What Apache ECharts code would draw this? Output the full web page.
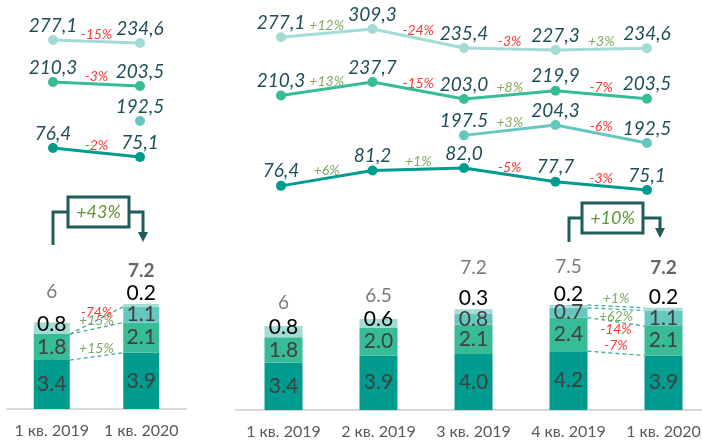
<!DOCTYPE html>
<html>
<head>
<meta charset="utf-8">
<script src="https://cdn.jsdelivr.net/npm/echarts@6/dist/echarts.min.js"></script>
<style>
  html, body { margin: 0; background: #fff; }
  #chart { width: 702px; height: 441px; }
</style>
</head>
<body>
<div id="chart"></div>
<script>
// ── Data ────────────────────────────────────────────────────────────────
const leftCats  = ['1 кв. 2019', '1 кв. 2020']
const rightCats = ['1 кв. 2019', '2 кв. 2019', '3 кв. 2019', '4 кв. 2019', '1 кв. 2020']

// stacked bar segments, bottom → top
const leftSeg1 = [3.4, 3.9]
const leftSeg2 = [1.8, 2.1]
const leftSeg3 = [null, 1.1]
const leftSeg4 = [0.8, 0.2]
const leftTotals = ['6', '7.2']

const rightSeg1 = [3.4, 3.9, 4.0, 4.2, 3.9]
const rightSeg2 = [1.8, 2.0, 2.1, 2.4, 2.1]
const rightSeg3 = [null, null, 0.8, 0.7, 1.1]
const rightSeg4 = [0.8, 0.6, 0.3, 0.2, 0.2]
const rightTotals = ['6', '6.5', '7.2', '7.5', '7.2']

// change labels on the dashed bridges (per segment, bottom → top)
const leftBridgePct  = ['+15%', '+15%', '-74%']
const rightBridgePct = ['-7%', '-14%', '+62%', '+1%']
const leftGrowth  = '+43%'
const rightGrowth = '+10%'

// lines above the bars
const leftLine1 = [277.1, 234.6]
const leftLine1Pct = ['-15%']
const leftLine2 = [210.3, 203.5]
const leftLine2Pct = ['-3%']
const leftLine3 = [null, 192.5]
const leftLine3Pct = [null]
const leftLine4 = [76.4, 75.1]
const leftLine4Pct = ['-2%']

const rightLine1 = [277.1, 309.3, 235.4, 227.3, 234.6]
const rightLine1Pct = ['+12%', '-24%', '-3%', '+3%']
const rightLine2 = [210.3, 237.7, 203.0, 219.9, 203.5]
const rightLine2Pct = ['+13%', '-15%', '+8%', '-7%']
const rightLine3 = [null, null, 197.5, 204.3, 192.5]
const rightLine3Pct = [null, null, '+3%', '-6%']
const rightLine3Labels = ['', '', '197.5', '204,3', '192,5']
const rightLine4 = [76.4, 81.2, 82.0, 77.7, 75.1]
const rightLine4Pct = ['+6%', '+1%', '-5%', '-3%']

// ── Style ───────────────────────────────────────────────────────────────
const FONT = 'Lato, "Open Sans", sans-serif'
const C1 = '#009b8f', C2 = '#38bc98', C3 = '#66c7bf', C4 = '#a3dcd5'
const VAL = '#1e4f57', UP = '#5f9435', DOWN = '#ff0000', BRACKET = '#1f5c5b'
const H = 441

const fmt = v => v.toFixed(1).replace('.', ',')
const pctColor = s => (s[0] === '-' ? DOWN : UP)

// axis range so that value vA lands on pixel pA and vB on pB (grid from 0 to H)
function fitRange(vA, pA, vB, pB) {
  const s = (pB - pA) / (vA - vB)
  const max = vA + pA / s
  return { min: max - H / s, max }
}

function cumulate(segs) {
  return segs.map((_, k) => segs[0].map((__, i) =>
    segs.slice(0, k + 1).reduce((a, s) => a + (s[i] || 0), 0)))
}

function barSeries(segs, xi, yi, stack, barW, topLabel) {
  const colors = [C1, C2, C3, C4]
  return segs.map((seg, k) => ({
    type: 'bar', stack, xAxisIndex: xi, yAxisIndex: yi, barWidth: barW,
    itemStyle: { color: colors[k] },
    data: seg.map((v, i) => k < 3 ? v : { value: v, label: topLabel[i] }),
    label: {
      show: true, position: 'inside', fontFamily: FONT, fontSize: 21,
      color: k === 3 ? '#000' : '#404040',
      formatter: p => (p.value == null ? '' : p.value.toFixed(1)),
    },
  }))
}

function totalSeries(segs, labels, xi, yi, dist) {
  const sums = segs[0].map((_, i) => segs.reduce((a, s) => a + (s[i] || 0), 0))
  const last = sums.length - 1
  return {
    type: 'scatter', xAxisIndex: xi, yAxisIndex: yi, symbolSize: 1, silent: true,
    itemStyle: { color: 'transparent' },
    data: sums.map((v, i) => ({
      value: v,
      label: {
        distance: dist[i],
        fontWeight: i === last ? 'bold' : 'normal',
        color: i === last ? '#404040' : '#595959',
      },
    })),
    label: { show: true, position: 'top', fontFamily: FONT, fontSize: 19, formatter: p => labels[p.dataIndex] },
  }
}

function bridgeSeries(segs, from, to, pcts, xi, yi, off, labelPos) {
  const cum = cumulate(segs)
  const out = pcts.map((_, k) => ({
    type: 'line', xAxisIndex: xi, yAxisIndex: yi, symbol: 'none', silent: true, z: 3,
    lineStyle: { color: '#3fae9f', width: 1.3, type: [4, 3] },
    data: [[from + off, cum[k][from]], [to - off, cum[k][to]]],
  }))
  out.push({
    type: 'scatter', xAxisIndex: xi, yAxisIndex: yi, symbolSize: 1, silent: true, z: 4,
    itemStyle: { color: 'transparent' },
    data: pcts.map((t, k) => ({
      value: [(from + to) / 2, (cum[k][from] + cum[k][to]) / 2],
      label: { position: labelPos[k], color: pctColor(t) },
    })),
    label: {
      show: true, distance: 0, fontFamily: FONT, fontSize: 14, fontStyle: 'italic',
      formatter: p => pcts[p.dataIndex],
    },
  })
  return out
}

function lineSeries(vals, pcts, color, xi, yi, texts) {
  const pts = vals.map((v, i) => (v == null ? null : [i, v])).filter(Boolean)
  const mids = []
  pcts.forEach((t, i) => {
    if (t) mids.push({ value: [i + 0.5, (vals[i] + vals[i + 1]) / 2], label: { color: pctColor(t) }, t })
  })
  return [
    {
      type: 'line', xAxisIndex: xi, yAxisIndex: yi, data: pts,
      symbol: 'circle', symbolSize: 10, silent: true,
      lineStyle: { color, width: 3 }, itemStyle: { color },
      label: {
        show: true, position: 'top', distance: 0,
        fontFamily: FONT, fontSize: 19, fontStyle: 'italic', color: VAL,
        formatter: p => (texts ? texts[p.value[0]] : fmt(p.value[1])),
      },
    },
    {
      type: 'scatter', xAxisIndex: xi, yAxisIndex: yi, symbolSize: 1, silent: true,
      itemStyle: { color: 'transparent' },
      data: mids.map(m => ({ value: m.value, label: m.label })),
      label: {
        show: true, position: 'top', distance: 0,
        fontFamily: FONT, fontSize: 14, fontStyle: 'italic',
        formatter: p => mids[p.dataIndex].t,
      },
    },
  ]
}

// ── Layout ──────────────────────────────────────────────────────────────
const leftSegs  = [leftSeg1, leftSeg2, leftSeg3, leftSeg4]
const rightSegs = [rightSeg1, rightSeg2, rightSeg3, rightSeg4]

const grids = [
  { left: 7,   top: 265, width: 179, height: 144 },   // left bars
  { left: 236, top: 270, width: 475, height: 140 },   // right bars
  { left: 53,  top: 0,   width: 87,  height: H },     // left lines
  { left: 281, top: 0,   width: 366, height: H },     // right lines
].map(g => ({ ...g, containLabel: false, outerBoundsMode: 'none' }))

const catAxis = (data, gridIndex) => ({
  type: 'category', gridIndex, data,
  axisLine: { lineStyle: { color: '#d9d9d9', width: 2 } },
  axisTick: { show: false },
  axisLabel: { interval: 0, hideOverlap: false, fontFamily: FONT, fontSize: 16, color: '#595959', margin: 14 },
})
const hiddenVal = (gridIndex, min, max) => ({ type: 'value', gridIndex, min, max, show: false })

const xAxis = [
  catAxis(leftCats, 0),
  hiddenVal(0, -0.5, 1.5),
  catAxis(rightCats, 1),
  hiddenVal(1, -0.5, 4.5),
  hiddenVal(2, 0, 1),
  hiddenVal(3, 0, 4),
]

const leftFits  = [[277.1, 40, 234.6, 43], [210.3, 82, 203.5, 86], [192.5, 121, 182.5, 136], [76.4, 148, 75.1, 157]]
const rightFits = [[309.3, 29, 227.3, 50], [237.7, 82, 203.0, 99], [204.3, 125, 192.5, 143], [82.0, 168, 75.1, 190]]

const yAxis = [
  hiddenVal(0, 0, 10),
  hiddenVal(1, 0, 10),
  ...leftFits.map(f => ({ type: 'value', gridIndex: 2, show: false, ...fitRange(...f) })),
  ...rightFits.map(f => ({ type: 'value', gridIndex: 3, show: false, ...fitRange(...f) })),
]

const inside = { position: 'inside', offset: [0, -4] }
const above  = { position: 'top', distance: 0 }

const series = [
  ...barSeries(leftSegs, 0, 0, 'L', 36, [inside, above]),
  ...barSeries(rightSegs, 2, 1, 'R', 38, [inside, inside, above, above, above]),
  totalSeries(leftSegs, leftTotals, 0, 0, [21, 23]),
  totalSeries(rightSegs, rightTotals, 2, 1, [13, 13, 31, 28, 30]),
  ...bridgeSeries(leftSegs, 0, 1, leftBridgePct, 1, 0, 18 / 89.5, ['top', 'top', 'top']),
  ...bridgeSeries(rightSegs, 3, 4, rightBridgePct, 3, 1, 19 / 95, ['top', 'bottom', 'bottom', 'top']),
  ...lineSeries(leftLine1, leftLine1Pct, C4, 4, 2),
  ...lineSeries(leftLine2, leftLine2Pct, C2, 4, 3),
  ...lineSeries(leftLine3, leftLine3Pct, C3, 4, 4),
  ...lineSeries(leftLine4, leftLine4Pct, C1, 4, 5),
  ...lineSeries(rightLine1, rightLine1Pct, C4, 5, 6),
  ...lineSeries(rightLine2, rightLine2Pct, C2, 5, 7),
  ...lineSeries(rightLine3, rightLine3Pct, C3, 5, 8, rightLine3Labels),
  ...lineSeries(rightLine4, rightLine4Pct, C1, 5, 9),
]

// growth brackets
const stroke = { stroke: BRACKET, lineWidth: 3, fill: null }
function bracket(x0, y0, box, x1, yTip, text) {
  const yMid = box.y + box.h / 2
  return [
    { type: 'polyline', shape: { points: [[x0, y0], [x0, yMid], [box.x, yMid]] }, style: stroke },
    { type: 'rect', shape: { x: box.x, y: box.y, width: box.w, height: box.h }, style: { ...stroke, fill: '#fff' } },
    { type: 'polyline', shape: { points: [[box.x + box.w, yMid], [x1, yMid], [x1, yTip - 9]] }, style: stroke },
    { type: 'polygon', shape: { points: [[x1 - 5, yTip - 10], [x1 + 5, yTip - 10], [x1, yTip]] }, style: { fill: BRACKET } },
    {
      type: 'text', x: box.x + box.w / 2, y: yMid,
      style: { text, fill: UP, font: `italic 18px ${FONT}`, align: 'center', verticalAlign: 'middle' },
    },
  ]
}

const chart = echarts.init(document.getElementById('chart'), null, { renderer: 'canvas' })
chart.setOption({
  animation: false,
  grid: grids,
  xAxis,
  yAxis,
  series,
  graphic: [
    ...bracket(53, 245, { x: 68, y: 197, w: 61, h: 30 }, 143, 242, leftGrowth),
    ...bracket(569, 242, { x: 582, y: 203, w: 61, h: 30 }, 660, 238, rightGrowth),
  ],
})
</script>
</body>
</html>
